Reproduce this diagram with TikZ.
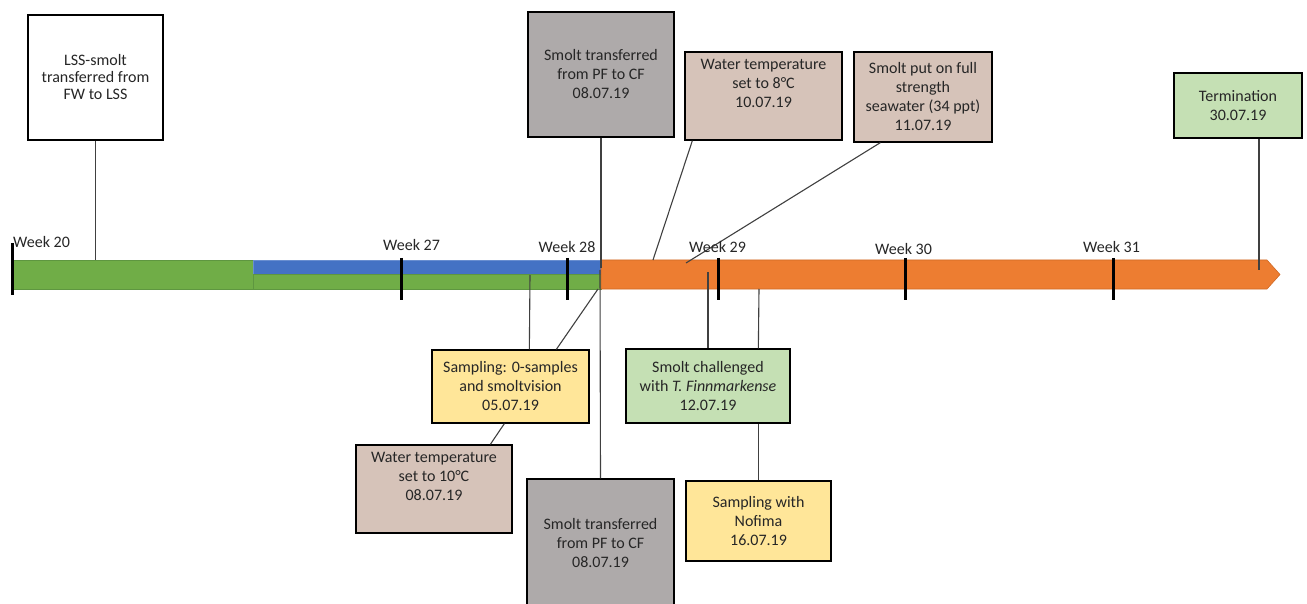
\documentclass[tikz,border=0pt]{standalone}
\usepackage{fontspec}
\setmainfont{Carlito}
\definecolor{txt}{HTML}{262626}
\definecolor{connc}{HTML}{404040}
\definecolor{bargreen}{HTML}{70AD47}
\definecolor{bargreenD}{HTML}{5E9640}
\definecolor{barblue}{HTML}{4472C4}
\definecolor{barorange}{HTML}{ED7D31}
\definecolor{barorangeD}{HTML}{D06A25}
\definecolor{grayfill}{HTML}{AEAAAA}
\definecolor{tanfill}{HTML}{D6C3B9}
\definecolor{greenfill}{HTML}{C5E0B4}
\definecolor{yellowfill}{HTML}{FFE699}
\begin{document}
\begin{tikzpicture}[x=1pt,y=-1pt,
  box/.style={draw=black, line width=1.3pt, align=center, inner sep=0pt, text=txt,
              font=\fontsize{16}{19}\selectfont},
  conn/.style={draw=connc, line width=1.1pt},
  tick/.style={draw=black, line width=3pt},
  wk/.style={inner sep=0pt, text=txt, font=\fontsize{16}{19}\selectfont}]
\useasboundingbox (0,0) rectangle (1307,604);
\fill[white] (0,0) rectangle (1307,604);

% bar
\filldraw[fill=bargreen, draw=bargreenD, line width=0.6pt] (12,260) rectangle (253,289);
\filldraw[fill=barblue, draw=barblue!80!white, line width=0.6pt] (253,260) rectangle (601,274);
\filldraw[fill=bargreen, draw=bargreenD, line width=0.6pt] (253,274) rectangle (601,289);
\filldraw[fill=barorange, draw=barorangeD, line width=0.6pt]
  (601,260) -- (1267,260) -- (1280,274.5) -- (1267,289) -- (601,289) -- cycle;

% connector end points on the bar
\coordinate (cLSS) at (95.5,260);
\coordinate (cGT) at (601,268);
\coordinate (c8) at (653,260);
\coordinate (cFull) at (686,263);
\coordinate (cTerm) at (1259,270);
\coordinate (cS0a) at (530,275);
\coordinate (cS0b) at (598,289);
\coordinate (cGB) at (600,270);
\coordinate (cCha) at (708,272);
\coordinate (cChb) at (759,289);

% boxes
\node[box, fill=white, minimum width=135, minimum height=125, font=\fontsize{16}{17}\selectfont]
  (lss) at (95.5,77.5) {LSS-smolt\\transferred from\\FW to LSS};
\node[box, fill=grayfill, minimum width=146, minimum height=125]
  (graytop) at (601,74.5) {Smolt transferred\\from PF to CF\\08.07.19};
\node[box, fill=tanfill, minimum width=157, minimum height=88]
  (temp8) at (763.5,96) {Water temperature\\set to 8°C\\10.07.19\\\strut};
\node[box, fill=tanfill, minimum width=138, minimum height=90]
  (full) at (923,97) {Smolt put on full\\strength\\seawater (34 ppt)\\11.07.19};
\node[box, fill=greenfill, minimum width=128, minimum height=65]
  (term) at (1238,105.5) {Termination\\30.07.19};
\node[box, fill=yellowfill, minimum width=157, minimum height=73]
  (samp0) at (510.5,386.5) {Sampling: 0-samples\\and smoltvision\\05.07.19};
\node[box, fill=tanfill, minimum width=156, minimum height=88]
  (temp10) at (434,489) {Water temperature\\set to 10°C\\08.07.19\\\strut};
\node[box, fill=grayfill, minimum width=147, minimum height=128]
  (graybot) at (600.5,543) {Smolt transferred\\from PF to CF\\08.07.19};
\node[box, fill=greenfill, minimum width=164, minimum height=74]
  (chall) at (708,386) {Smolt challenged\\with \textit{T. Finnmarkense}\\12.07.19};
\node[box, fill=yellowfill, minimum width=145, minimum height=80]
  (nofima) at (758.5,521) {Sampling with\\Nofima\\16.07.19};

% connectors
\draw[conn] (lss.south) -- (cLSS);
\draw[conn] (graytop.south) -- (cGT);
\draw[conn] ([xshift=8]temp8.south west) -- (c8);
\draw[conn] ([xshift=27]full.south west) -- (cFull);
\draw[conn] ([xshift=21]term.south) -- (cTerm);
\draw[conn] ([xshift=98]samp0.north west) -- (cS0a);
\draw[conn] ([xshift=125]samp0.north west) -- (cS0b);
\draw[conn] ([xshift=135]temp10.north west) -- ([xshift=73]samp0.south west);
\draw[conn] (graybot.north) -- (cGB);
\draw[conn] (chall.north) -- (cCha);
\draw[conn] ([xshift=133]chall.north west) -- (cChb);
\draw[conn] (nofima.north) -- (nofima.north |- chall.south);

% ticks
\draw[tick] (12,243) -- (12,295);
\draw[tick] (401,258) -- (401,300);
\draw[tick] (567,258) -- (567,300);
\draw[tick] (718,258) -- (718,300);
\draw[tick] (905,258) -- (905,300);
\draw[tick] (1113,258) -- (1113,300);

% week labels
\node[wk] (w20) at (41.5,242) {Week 20};
\node[wk] (w27) at (411.5,245.5) {Week 27};
\node[wk] (w28) at (567,247.5) {Week 28};
\node[wk] (w29) at (717.5,247.5) {Week 29};
\node[wk] (w30) at (903.5,249) {Week 30};
\node[wk] (w31) at (1111.5,247) {Week 31};
\end{tikzpicture}
\end{document}
